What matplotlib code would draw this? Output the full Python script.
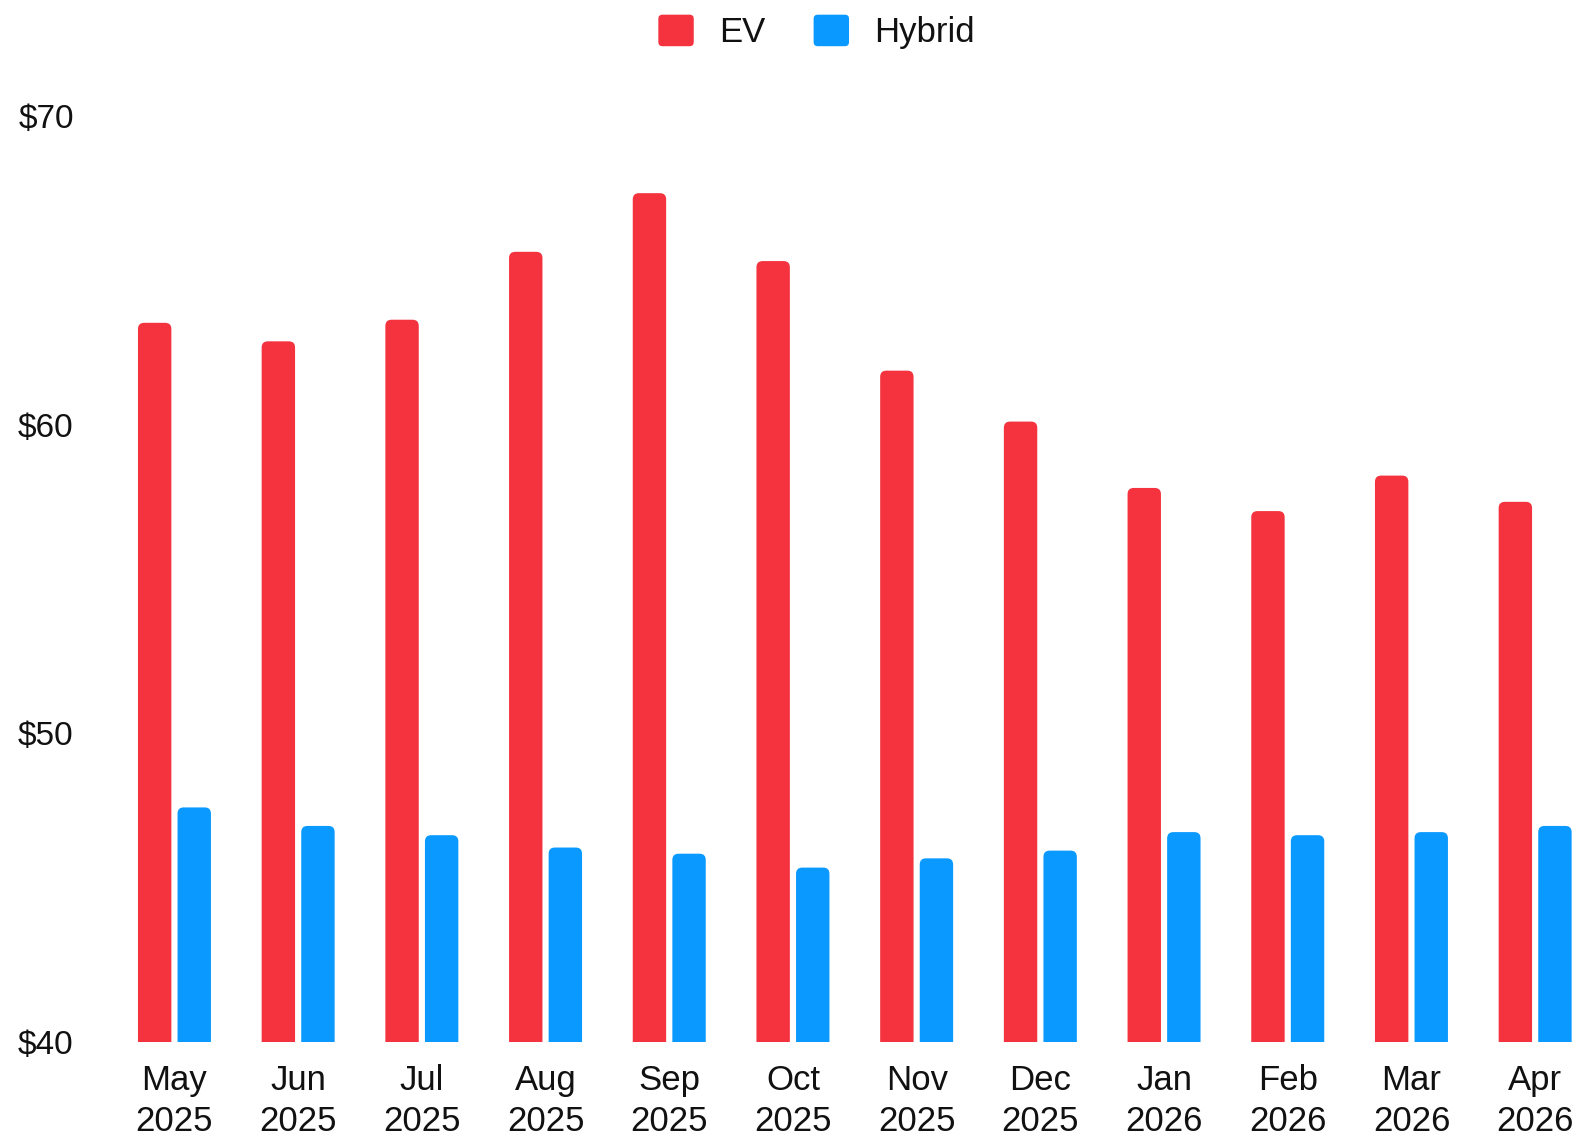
import numpy as np
import matplotlib.pyplot as plt
from matplotlib.patches import FancyBboxPatch, Patch
from matplotlib.legend_handler import HandlerPatch

plt.rcParams['font.family'] = ['Liberation Sans', 'DejaVu Sans']

# monthly values
months = ["May\n2025", "Jun\n2025", "Jul\n2025", "Aug\n2025", "Sep\n2025", "Oct\n2025",
          "Nov\n2025", "Dec\n2025", "Jan\n2026", "Feb\n2026", "Mar\n2026", "Apr\n2026"]
ev = [63.3, 62.7, 63.4, 65.6, 67.5, 65.3, 61.75, 60.1, 57.95, 57.2, 58.35, 57.5]
hybrid = [47.6, 47.0, 46.7, 46.3, 46.1, 45.65, 45.95, 46.2, 46.8, 46.7, 46.8, 47.0]
yticks = [40, 50, 60, 70]

red = '#F4333F'
blue = '#0A99FE'

W, H = 1577, 1142
fig = plt.figure(figsize=(W / 100, H / 100), dpi=100)
# axes runs a bit past the right edge of the figure, like the original
ax = fig.add_axes([112.6 / W, 100 / H, (1597 - 112.6) / W, 926 / H])

x = np.arange(len(months))
bw = 0.27
off = 0.16


def rounded_bars(xs, vals, color):
    bars = ax.bar(xs, np.array(vals) - 39, bottom=39, width=bw, color=color)
    # swap each rectangle for a rounded one (bottom corners fall below the axis and get clipped)
    for r in bars:
        p = FancyBboxPatch((r.get_x(), r.get_y()), r.get_width(), r.get_height(),
                           boxstyle="round,pad=0,rounding_size=0.05",
                           mutation_aspect=4.0, facecolor=color, edgecolor='none')
        ax.add_patch(p)
        r.remove()


rounded_bars(x - off, ev, red)
rounded_bars(x + off, hybrid, blue)

ax.set_xlim(-0.5, len(months) - 0.5)
ax.set_ylim(40, 70)
ax.set_yticks(yticks)
ax.set_yticklabels([f"${v}" for v in yticks])
ax.set_xticks(x)
ax.set_xticklabels(months, linespacing=1.3)
ax.tick_params(axis='y', length=0, pad=28, labelsize=24, labelcolor='#111111')
ax.tick_params(axis='x', length=0, pad=16, labelsize=25, labelcolor='#111111')
for s in ax.spines.values():
    s.set_visible(False)


class RoundSquare(HandlerPatch):
    def create_artists(self, legend, orig_handle, xdescent, ydescent, width, height, fontsize, trans):
        p = FancyBboxPatch((-xdescent, -ydescent), width, height,
                           boxstyle="round,pad=0,rounding_size=3",
                           facecolor=orig_handle.get_facecolor(), edgecolor='none',
                           transform=trans)
        return [p]


handles = [Patch(facecolor=red, label='EV'), Patch(facecolor=blue, label='Hybrid')]
fig.legend(handles=handles, loc='center', bbox_to_anchor=(816.5 / W, 1 - 32 / H),
           ncol=2, frameon=False, fontsize=25, handlelength=1.02, handleheight=1.02,
           handletextpad=0.72, columnspacing=1.4, labelcolor='#111111',
           handler_map={Patch: RoundSquare()})

fig.savefig('out.png', dpi=100, facecolor='white')
